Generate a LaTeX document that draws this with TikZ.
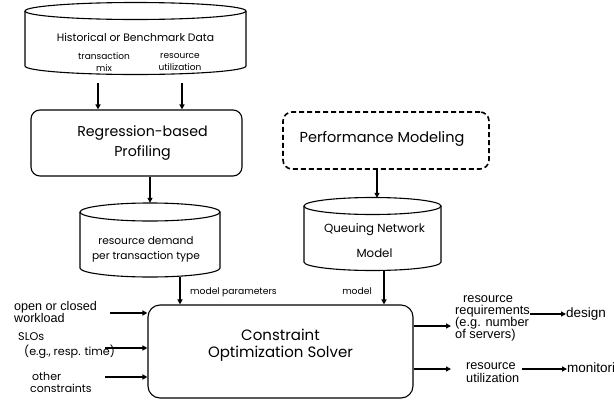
\documentclass[tikz,border=0pt]{standalone}
\usepackage{fontspec}
\setmainfont{Poppins}
\newfontfamily\arialf{Liberation Sans}
\usetikzlibrary{arrows.meta}
\newcommand\fsz[2]{\fontsize{#1}{#2}\selectfont}
\newcommand\mycyl[5]{%
  \draw[cylline] (#1,#3) -- (#1,#4) arc[start angle=180,end angle=0,x radius={(#2-#1)/2},y radius=#5] -- (#2,#3);
  \draw[cylline] ({(#1+#2)/2},#3) ellipse[x radius={(#2-#1)/2},y radius=#5];}
\begin{document}
\begin{tikzpicture}[x=1pt,y=-1pt,
  box/.style={draw,line width=1.1pt,rounded corners=9pt,inner sep=0pt},
  cylline/.style={line width=1.1pt},
  lbl/.style={inner sep=0pt,align=center},
  arr/.style={line width=1.8pt,-{Triangle[length=5pt,width=5pt]}}]
\useasboundingbox (0,0) rectangle (614,405);
\clip (0,0) rectangle (614,405);
% historical data cylinder
\mycyl{25}{246}{11}{66}{8.5}
\node[inner sep=0pt,minimum width=221pt,minimum height=72pt] (hist) at (135.5,39) {};
\node[lbl,font=\fsz{10.8}{12}] (histt) at (135.5,37) {Historical or Benchmark Data};
\node[lbl,font=\fsz{9}{11.5}] (tmix) at (104,62) {transaction\\mix};
\node[lbl,font=\fsz{9}{11.5}] (rutil) at (180,62) {resource\\utilization};
% regression box
\node[box,minimum width=211pt,minimum height=66pt] (reg) at (136.5,143) {};
\node[lbl,font=\fsz{14.2}{20}] (regt) at (142.5,143) {Regression-based\\Profiling};
\draw[arr] ([shift={(-37.5,8)}]hist.south) -- ([xshift=-37.5pt]hist.south |- reg.north);
\draw[arr] ([shift={(46.5,8)}]hist.south) -- ([xshift=46.5pt]hist.south |- reg.north);
% performance modeling
\node[box,dashed,dash pattern=on 5pt off 3pt,line width=1.6pt,minimum width=206pt,minimum height=57pt] (perf) at (386,140.5) {};
\node[lbl,font=\fsz{14.5}{16}] (perft) at (382,139) {Performance Modeling};
% demand cylinder
\mycyl{80}{220}{212}{268}{9}
\node[inner sep=0pt,minimum width=140pt,minimum height=74pt] (dem) at (150,240) {};
\node[lbl,font=\fsz{10.6}{15}] (demt) at (146,249.5) {resource demand\\per transaction type};
\draw[arr] (reg.south -| dem.north) -- (dem.north);
% queue cylinder
\mycyl{304}{441}{206}{262}{8.5}
\node[inner sep=0pt,minimum width=137pt,minimum height=73pt] (queue) at (372.5,234.5) {};
\node[lbl,font=\fsz{11.8}{25}] (queuet) at (374.5,240.5) {Queuing Network\\Model};
\draw[arr] ([xshift=-9pt]perf.south) -- ([xshift=-9pt]perf.south |- queue.north);
% solver
\node[box,rounded corners=12pt,minimum width=265pt,minimum height=93pt] (solver) at (280.5,351.5) {};
\node[lbl,font=\fsz{15}{17}] (solvert) at (280.5,345.5) {Constraint\\Optimization Solver};
\draw[arr] ([xshift=30pt]dem.south) -- ([xshift=30pt]dem.south |- solver.north);
\node[lbl,anchor=west,font=\fsz{9.2}{10}] (mparam) at (190,292) {model parameters};
\draw[arr] ([xshift=11.5pt]queue.south) -- ([xshift=11.5pt]queue.south |- solver.north);
\node[lbl,anchor=east,font=\fsz{9.2}{10}] (mmodel) at (372,291) {model};
% left inputs
\node[lbl,anchor=west,align=left,font=\arialf\fsz{12.6}{12.5}] (wl) at (14,312) {open or closed\\workload};
\node[lbl,anchor=west,font=\fsz{11.2}{12}] (slo) at (18,337) {SLOs};
\node[lbl,anchor=west,font=\fsz{11.2}{12}] (resp) at (24,352) {(e.g., resp. time)};
\node[lbl,anchor=west,align=left,font=\fsz{11}{12}] (oth) at (30,382) {\hspace*{2pt}other\\constraints};
\coordinate (in1) at (110,313);
\coordinate (in2) at (105,348);
\coordinate (in3) at (105,377);
\draw[arr] (in1) -- (in1 -| solver.west);
\draw[arr] (in2) -- (in2 -| solver.west);
\draw[arr] (in3) -- (in3 -| solver.west);
% right outputs
\coordinate (out1) at (451,326);
\coordinate (out2) at (451,369);
\draw[arr] (out1 -| solver.east) -- (out1);
\draw[arr] (out2 -| solver.east) -- (out2);
\node[lbl,anchor=north west,align=left,font=\arialf\fsz{12.8}{12}] (req) at (455,295) {\hspace*{8pt}resource\\requirements\\(e.g. number\\of servers)};
\node[lbl,anchor=north west,align=left,font=\arialf\fsz{12.7}{13}] (rut) at (466,362) {resource\\utilization};
\node[lbl,anchor=west,font=\arialf\fsz{13.5}{15}] (design) at (566,314) {design};
\node[lbl,anchor=west,font=\arialf\fsz{13.5}{15}] (monit) at (567,369) {monitoring};
\coordinate (d0) at (530,314);
\coordinate (m0) at (522,369);
\draw[arr] (d0) -- (design.west);
\draw[arr] (m0) -- (monit.west);
\end{tikzpicture}
\end{document}
